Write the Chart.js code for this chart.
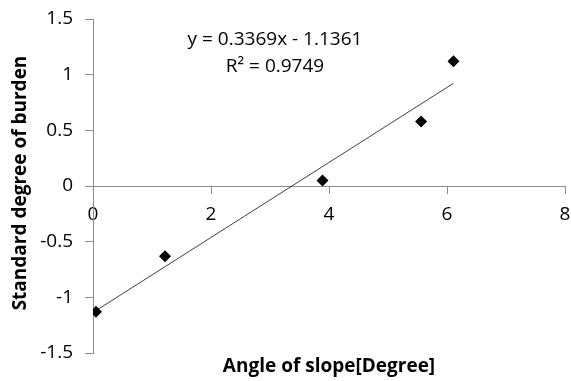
<!DOCTYPE html>
<html>
<head>
<meta charset="utf-8" />
<title>Angle of slope vs burden</title>
<script src="https://cdn.jsdelivr.net/npm/chart.js@4.4.1/dist/chart.umd.min.js"></script>
<style>
    html, body { margin: 0; padding: 0; background: #fff; }
    #wrap { width: 571px; height: 381px; }
</style>
</head>
<body>
<div id="wrap">
    <canvas id="grafico" width="571" height="381"></canvas>
</div>
<script type="text/javascript">

    // data
    var angleValues = [0.05, 1.22, 3.89, 5.56, 6.11];
    var burdenValues = [-1.13, -0.63, 0.05, 0.58, 1.12];
    var trendSlope = 0.3369;
    var trendIntercept = -1.1361;
    var equationText = "y = 0.3369x - 1.1361";
    var rSquaredText = "R\u00B2 = 0.9749";
    var xTitle = "Angle of slope[Degree]";
    var yTitle = "Standard degree of burden";

    var puntos = angleValues.map(function (x, i) { return { x: x, y: burdenValues[i] }; });
    var xMin = Math.min.apply(null, angleValues);
    var xMax = Math.max.apply(null, angleValues);
    var tendencia = [
        { x: xMin, y: trendSlope * xMin + trendIntercept },
        { x: xMax, y: trendSlope * xMax + trendIntercept }
    ];

    var fuente = "'Open Sans', sans-serif";
    var axisColor = '#8c8c8c';

    // titles and the trend equation, drawn as text on top
    var textos = {
        id: 'textos',
        afterDraw: function (chart) {
            var ctx = chart.ctx;
            ctx.save();
            ctx.fillStyle = '#000';
            ctx.textAlign = 'center';
            ctx.textBaseline = 'middle';
            ctx.font = "19px " + fuente;
            ctx.fillText(equationText, 275, 40);
            ctx.fillText(rSquaredText, 275, 67);
            ctx.font = "bold 19px " + fuente;
            ctx.fillText(xTitle, 329, 367);
            ctx.translate(21, 183);
            ctx.rotate(-Math.PI / 2);
            ctx.fillText(yTitle, 0, 0);
            ctx.restore();
        }
    };

    var config = {
        type: 'scatter',
        data: {
            datasets: [{
                label: 'Puntos',
                data: puntos,
                pointStyle: 'rectRot',
                pointRadius: 6,
                backgroundColor: '#000',
                borderColor: '#000',
                borderWidth: 0
            }, {
                label: 'Tendencia',
                type: 'line',
                data: tendencia,
                borderColor: '#404040',
                borderWidth: 1,
                pointRadius: 0,
                fill: false
            }]
        },
        options: {
            responsive: false,
            animation: false,
            layout: { padding: { top: 19, right: 6, bottom: 28, left: 0 } },
            plugins: {
                legend: { display: false },
                tooltip: { enabled: false }
            },
            scales: {
                x: {
                    type: 'linear',
                    position: { y: 0 },
                    min: 0,
                    max: 8,
                    afterFit: function (s) { s.paddingLeft = 0; s.paddingRight = 0; },
                    ticks: { stepSize: 2, color: '#000', font: { family: fuente, size: 19 }, padding: 10 },
                    grid: { drawOnChartArea: false, drawTicks: true, tickLength: 7, color: axisColor },
                    border: { display: true, color: axisColor }
                },
                y: {
                    type: 'linear',
                    min: -1.5,
                    max: 1.5,
                    afterFit: function (s) { s.width = 93; s.paddingTop = 0; s.paddingBottom = 0; },
                    ticks: {
                        stepSize: 0.5, color: '#000', font: { family: fuente, size: 19 }, padding: 12,
                        callback: function (v) { return String(Math.round(v * 10) / 10); }
                    },
                    grid: { drawOnChartArea: false, drawTicks: true, tickLength: 8, color: axisColor },
                    border: { display: true, color: axisColor }
                }
            }
        },
        plugins: [textos]
    };

    var ctx = document.getElementById("grafico").getContext("2d");
    var grafico = new Chart(ctx, config);

</script>
</body>
</html>
